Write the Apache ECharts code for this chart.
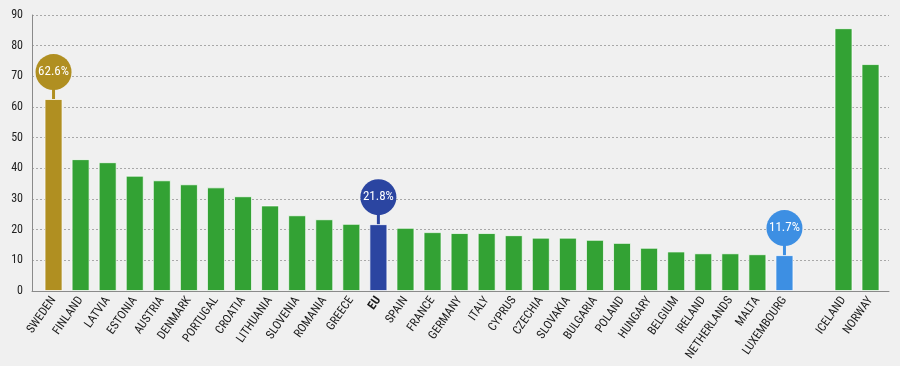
<!DOCTYPE html>
<html>
<head>
<meta charset="utf-8">
<script src="https://cdn.jsdelivr.net/npm/echarts@6/dist/echarts.min.js"></script>
<style>
html,body{margin:0;padding:0;background:#f0f0f0;}
#chart{width:900px;height:366px;}
</style>
</head>
<body>
<div id="chart"></div>
<script>
// ---- data ----
var euCountries = ['SWEDEN','FINLAND','LATVIA','ESTONIA','AUSTRIA','DENMARK','PORTUGAL','CROATIA','LITHUANIA','SLOVENIA','ROMANIA','GREECE','EU','SPAIN','FRANCE','GERMANY','ITALY','CYPRUS','CZECHIA','SLOVAKIA','BULGARIA','POLAND','HUNGARY','BELGIUM','IRELAND','NETHERLANDS','MALTA','LUXEMBOURG'];
var euValues = [62.6,43.0,42.0,37.6,36.1,34.8,33.8,30.9,27.9,24.7,23.4,21.9,21.8,20.6,19.2,18.9,18.9,18.2,17.4,17.4,16.7,15.7,14.1,12.9,12.3,12.3,12.0,11.7];
var otherCountries = ['ICELAND','NORWAY'];
var otherValues = [85.7,74.0];
var yTicks = [0,10,20,30,40,50,60,70,80,90];
var callouts = ['SWEDEN','EU','LUXEMBOURG'];

// ---- styles ----
var GREEN = '#33a234';
var highlight = {SWEDEN:'#b08f21', EU:'#2b45a1', LUXEMBOURG:'#3d8fe3'};

function textWidth(font){
  var c = document.createElement('canvas').getContext('2d');
  c.font = '40px ' + font;
  return c.measureText('NETHERLANDS LUXEMBOURG 0123456789').width;
}
var baseW = textWidth("'Liberation Sans'");
var FONT = 'Liberation Sans';
['Liberation Sans Narrow','DejaVu Sans Condensed','Arial Narrow','Roboto Condensed'].some(function(f){
  var w = textWidth("'" + f + "', 'Liberation Sans'");
  if (w < baseW * 0.9) { FONT = f; return true; }
  return false;
});
var condensed = FONT !== 'Liberation Sans';
var LBL = condensed ? 12 : 11;

function barData(names, vals){
  return vals.map(function(v,i){
    return {value:v, itemStyle:{color: highlight[names[i]] || GREEN}};
  });
}

var calloutData = callouts.map(function(n){
  return [n, euValues[euCountries.indexOf(n)]];
});

var labelCommon = {
  rotate:55, fontSize:LBL, color:'#1a1a1a', fontFamily:FONT, margin:7, interval:0,
  formatter:function(v){ return v==='EU' ? '{b|EU}' : v; },
  rich:{b:{fontWeight:'bold', fontSize:LBL, fontFamily:FONT, color:'#1a1a1a'}}
};

var chart = echarts.init(document.getElementById('chart'));
chart.setOption({
  backgroundColor:'#f0f0f0',
  animation:false,
  grid:[
    {left:32, right:11, top:15, bottom:75, outerBoundsMode:'none', containLabel:false},
    {left:40, width:758, top:15, bottom:75, outerBoundsMode:'none', containLabel:false},
    {left:830, width:54, top:15, bottom:75, outerBoundsMode:'none', containLabel:false}
  ],
  xAxis:[
    {gridIndex:0, type:'value', min:0, max:1, axisLine:{show:true, onZero:false, lineStyle:{color:'#8a8a8a'}}, axisTick:{show:false}, axisLabel:{show:false}, splitLine:{show:false}},
    {gridIndex:1, type:'category', data:euCountries, axisLine:{show:false}, axisTick:{show:false}, axisLabel:labelCommon},
    {gridIndex:2, type:'category', data:otherCountries, axisLine:{show:false}, axisTick:{show:false}, axisLabel:labelCommon}
  ],
  yAxis:[
    {gridIndex:0, type:'value', min:yTicks[0], max:yTicks[yTicks.length-1], interval:10,
     axisLine:{show:true, lineStyle:{color:'#8a8a8a'}}, axisTick:{show:false},
     axisLabel:{color:'#222', fontSize:LBL, fontFamily:FONT, margin:9},
     splitLine:{show:true, lineStyle:{color:'#a8a8a8', type:[2,2], width:1}}},
    {gridIndex:1, type:'value', min:0, max:90, show:false},
    {gridIndex:2, type:'value', min:0, max:90, show:false}
  ],
  series:[
    {type:'bar', xAxisIndex:1, yAxisIndex:1, barWidth:18, data:barData(euCountries, euValues),
     itemStyle:{borderColor:'rgba(255,255,255,0.7)', borderWidth:1}},
    {type:'bar', xAxisIndex:2, yAxisIndex:2, barWidth:18, data:barData(otherCountries, otherValues),
     itemStyle:{borderColor:'rgba(255,255,255,0.7)', borderWidth:1}},
    {type:'custom', xAxisIndex:1, yAxisIndex:1, data:calloutData, clip:false, z:5,
     encode:{x:0, y:1},
     renderItem:function(params, api){
       var idx = api.value(0);
       var val = api.value(1);
       var name = calloutData[params.dataIndex][0];
       var p = api.coord([idx, val]);
       var col = highlight[name];
       return {type:'group', children:[
         {type:'rect', shape:{x:p[0]-1.5, y:p[1]-10, width:3, height:10}, style:{fill:col}},
         {type:'circle', shape:{cx:p[0], cy:p[1]-27, r:18}, style:{fill:col}},
         {type:'text', x:p[0], y:p[1]-27, scaleX:condensed ? 1 : 0.82,
          style:{text:val.toFixed(1)+'%', x:0, y:0, align:'center', verticalAlign:'middle',
           fill:'#ffffff', fontSize:condensed ? 13 : 12.5, fontFamily:FONT}}
       ]};
     }}
  ]
});
</script>
</body>
</html>
